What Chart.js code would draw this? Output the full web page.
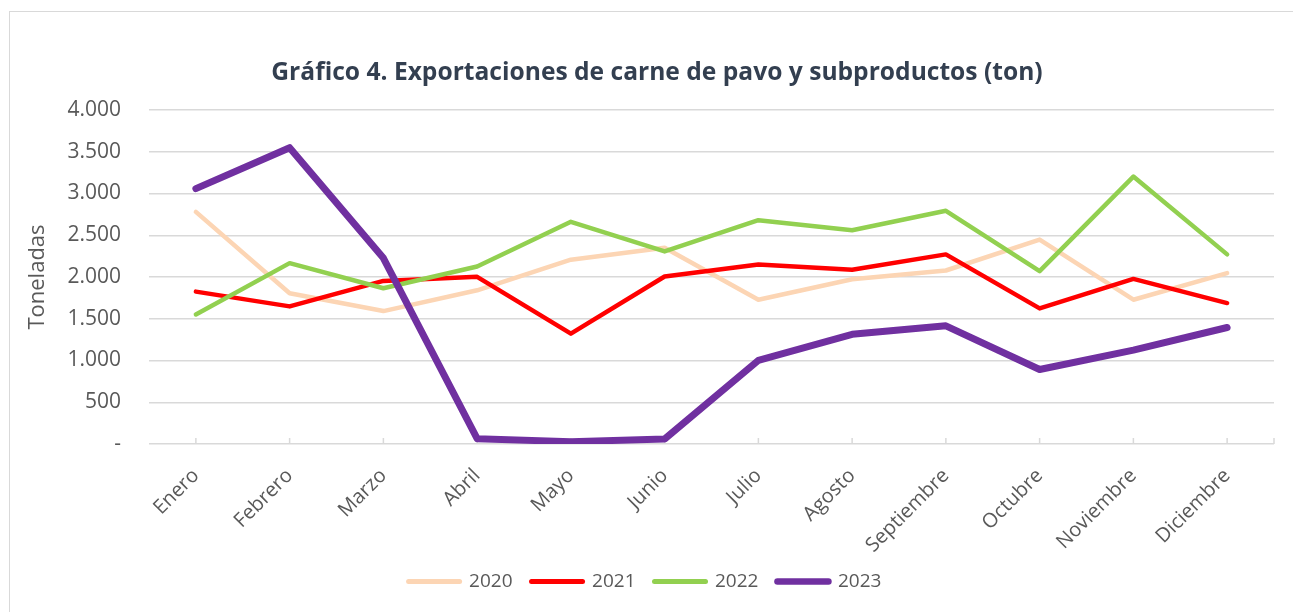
<!DOCTYPE html>
<html>
<head>
<meta charset="utf-8">
<script src="https://cdn.jsdelivr.net/npm/chart.js@4/dist/chart.umd.min.js"></script>
<style>
  html, body { margin: 0; padding: 0; background: #ffffff; }
  #wrap { position: relative; width: 1293px; height: 612px; overflow: hidden; }
  #frame { position: absolute; left: 9px; top: 11px; width: 1300px; height: 700px;
           border-left: 1.5px solid #d9d9d9; border-top: 1.5px solid #d9d9d9; }
  canvas { position: absolute; left: 0; top: 0; }
</style>
</head>
<body>
<div id="wrap">
  <div id="frame"></div>
  <canvas id="c" width="1293" height="612"></canvas>
</div>
<script>
const chartTitle = 'Gráfico 4. Exportaciones de carne de pavo y subproductos (ton)';
const yAxisTitle = 'Toneladas';
const months = ['Enero', 'Febrero', 'Marzo', 'Abril', 'Mayo', 'Junio', 'Julio', 'Agosto', 'Septiembre', 'Octubre', 'Noviembre', 'Diciembre'];
const seriesNames = ['2020', '2021', '2022', '2023'];
const values2020 = [2780, 1805, 1592, 1841, 2207, 2351, 1728, 1973, 2078, 2448, 1728, 2046];
const values2021 = [1825, 1648, 1953, 2002, 1322, 2006, 2150, 2086, 2271, 1624, 1977, 1688];
const values2022 = [1551, 2166, 1865, 2126, 2661, 2307, 2681, 2560, 2793, 2070, 3203, 2271];
const values2023 = [3059, 3549, 2227, 64, 28, 60, 1001, 1314, 1415, 892, 1125, 1395];
const yMin = 0, yMax = 4000, yStep = 500;

const colors = ['#fcd5b4', '#ff0000', '#92d050', '#7030a0'];
const widths = [4.5, 4.5, 4.5, 7];
const allValues = [values2020, values2021, values2022, values2023];

const datasets = seriesNames.map((name, i) => ({
  label: name,
  data: allValues[i],
  borderColor: colors[i],
  backgroundColor: colors[i],
  borderWidth: widths[i],
  pointRadius: 0,
  pointHoverRadius: 0,
  tension: 0,
  fill: false,
  borderCapStyle: 'round',
  borderJoinStyle: 'round',
  order: 3 - i
}));

const FONT = "'Open Sans', 'DejaVu Sans', sans-serif";
const GRID = '#d9d9d9';
const TEXT = '#595959';

const insideTicks = {
  id: 'insideTicks',
  afterLayout(chart) {
    if (chart.legend) { chart.legend.left -= 12; chart.legend.right -= 12; }
  },
  beforeDatasetsDraw(chart) {
    const xs = chart.scales.x;
    const ctx = chart.ctx;
    const bottom = chart.chartArea.bottom;
    ctx.save();
    ctx.strokeStyle = GRID;
    ctx.lineWidth = 1.5;
    ctx.beginPath();
    for (let i = 0; i < months.length; i++) {
      const x = xs.getPixelForTick(i);
      ctx.moveTo(x, bottom);
      ctx.lineTo(x, bottom - 6);
    }
    ctx.moveTo(chart.chartArea.right, bottom);
    ctx.lineTo(chart.chartArea.right, bottom - 6);
    ctx.stroke();
    ctx.restore();
  }
};

new Chart(document.getElementById('c'), {
  type: 'line',
  data: { labels: months, datasets: datasets },
  plugins: [insideTicks],
  options: {
    responsive: false,
    animation: false,
    events: [],
    layout: { padding: { left: 21, right: 0, top: 0, bottom: 11 } },
    plugins: {
      title: {
        display: true,
        text: chartTitle,
        color: '#333f50',
        font: { family: FONT, size: 24.6, weight: 'bold', lineHeight: 1.2 },
        padding: { top: 58, bottom: 22.5 }
      },
      legend: {
        display: true,
        position: 'bottom',
        labels: {
          font: { family: FONT, size: 19 },
          color: TEXT,
          usePointStyle: true,
          pointStyleWidth: 51,
          padding: 19,
          sort: (a, b) => a.datasetIndex - b.datasetIndex,
          generateLabels: (chart) => chart.data.datasets.map((ds, i) => ({
            text: ds.label,
            fillStyle: ds.borderColor,
            strokeStyle: ds.borderColor,
            fontColor: TEXT,
            lineWidth: i === 3 ? 6.5 : 5,
            lineCap: 'round',
            pointStyle: 'line',
            hidden: false,
            datasetIndex: i
          }))
        }
      },
      tooltip: { enabled: false }
    },
    scales: {
      x: {
        offset: true,
        grid: { display: false, drawTicks: false },
        border: { display: false },
        ticks: {
          autoSkip: false,
          minRotation: 45,
          maxRotation: 45,
          padding: 20,
          color: TEXT,
          font: { family: FONT, size: 20 }
        },
        afterFit: (s) => { s.height = 109; }
      },
      y: {
        min: yMin,
        max: yMax,
        grid: { color: GRID, lineWidth: 1.5, drawTicks: false },
        border: { display: false },
        ticks: {
          stepSize: yStep,
          padding: 28,
          color: TEXT,
          font: { family: FONT, size: 21 },
          callback: (v) => v === 0 ? '-' : v.toLocaleString('de-DE')
        },
        title: {
          display: true,
          text: yAxisTitle,
          color: TEXT,
          font: { family: FONT, size: 22 },
          padding: { top: 4, bottom: 0 }
        },
        afterFit: (s) => { s.width = 128; }
      },
      spacer: {
        type: 'linear',
        position: 'right',
        display: true,
        grid: { display: false, drawTicks: false },
        border: { display: false },
        ticks: { display: false },
        afterFit: (s) => { s.width = 19; }
      }
    }
  }
});
</script>
</body>
</html>
